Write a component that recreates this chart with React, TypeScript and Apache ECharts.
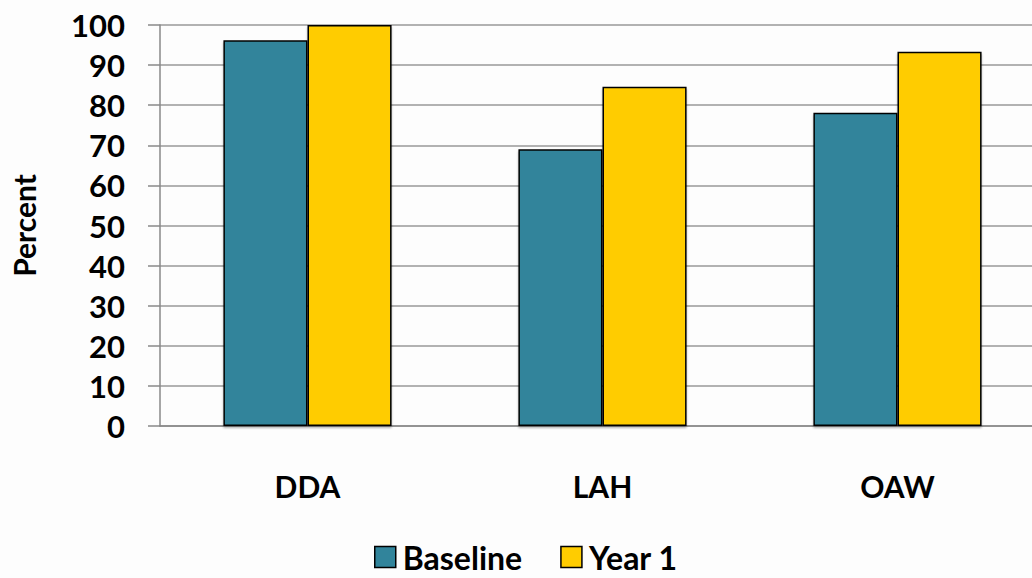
import React, { useEffect, useRef } from "react";
import * as echarts from "echarts";

const categories = ["DDA", "LAH", "OAW"];
const baseline = [96.2, 69, 78.1];
const year1 = [100, 84.6, 93.3];
const seriesNames = ["Baseline", "Year 1"];

export default function App() {
  const ref = useRef<HTMLDivElement>(null);
  useEffect(() => {
    document.body.style.margin = "0";
    const chart = echarts.init(ref.current!, null, { renderer: "svg" });
    const font = "Lato, 'Open Sans', sans-serif";
    chart.setOption({
      animation: false,
      backgroundColor: "#fdfdfd",
      textStyle: { fontFamily: font },
      grid: { left: 160, right: 0, top: 25, bottom: 152, outerBoundsMode: "none", containLabel: false },
      legend: {
        bottom: 0,
        left: 369,
        icon: "rect",
        itemWidth: 21,
        itemHeight: 21,
        itemGap: 38,
        textStyle: { fontSize: 32, fontWeight: "bold", color: "#000", fontFamily: font, padding: [0, 0, 0, 2] },
        data: seriesNames.map((n) => ({ name: n, itemStyle: { borderColor: "#000", borderWidth: 1.5 } })),
      },
      xAxis: {
        type: "category",
        data: categories,
        axisLine: { lineStyle: { color: "#888", width: 1.5 } },
        axisTick: { length: 10, lineStyle: { color: "#888", width: 1.5 } },
        axisLabel: { margin: 45, fontSize: 30, fontWeight: "bold", color: "#000", fontFamily: font },
      },
      yAxis: {
        type: "value",
        min: 0,
        max: 100,
        interval: 10,
        name: "Percent",
        nameLocation: "middle",
        nameGap: 121,
        nameRotate: 90,
        nameTextStyle: { fontSize: 30, fontWeight: "bold", color: "#000", fontFamily: font },
        axisLine: { show: true, lineStyle: { color: "#888", width: 1.5 } },
        axisTick: { show: true, length: 12, lineStyle: { color: "#888", width: 1.5 } },
        splitLine: { lineStyle: { color: "#999", width: 1.5 } },
        axisLabel: { margin: 35, fontSize: 31, fontWeight: "bold", color: "#000", fontFamily: font },
      },
      series: [
        {
          name: seriesNames[0],
          type: "bar",
          data: baseline,
          barGap: "0%",
          barCategoryGap: "43%",
          itemStyle: { color: "#31849B", borderColor: "#000", borderWidth: 1.5, shadowColor: "rgba(0,0,0,0.3)", shadowOffsetY: 2, shadowBlur: 2 },
        },
        {
          name: seriesNames[1],
          type: "bar",
          data: year1,
          barGap: "0%",
          barCategoryGap: "43%",
          itemStyle: { color: "#FFCC00", borderColor: "#000", borderWidth: 1.5, shadowColor: "rgba(0,0,0,0.3)", shadowOffsetY: 2, shadowBlur: 2 },
        },
      ],
    });
    return () => chart.dispose();
  }, []);
  return (
    <div style={{ width: 1032, height: 578, overflow: "hidden" }}>
      <div ref={ref} style={{ width: 1045, height: 578 }} />
    </div>
  );
}
